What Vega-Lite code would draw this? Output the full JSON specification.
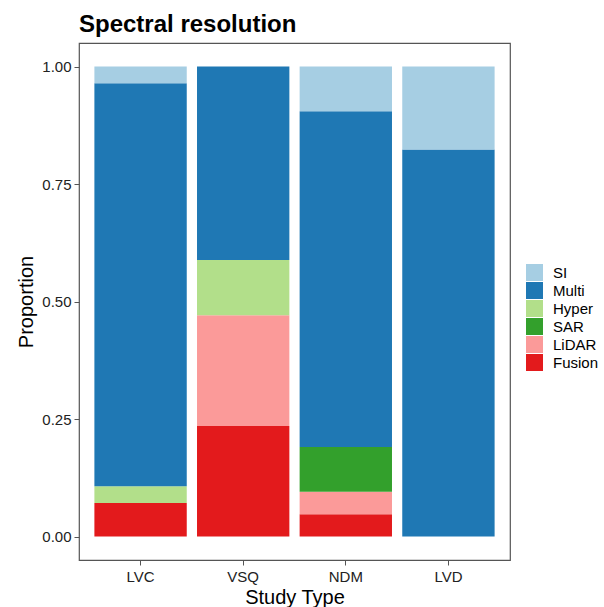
{
  "$schema": "https://vega.github.io/schema/vega-lite/v6.json",
  "width": 431,
  "height": 517,
  "autosize": {"type": "none"},
  "padding": {"left": 79, "top": 43, "right": 94, "bottom": 47},
  "background": "white",
  "title": {
    "text": "Spectral resolution",
    "anchor": "start",
    "frame": "group",
    "font": "Liberation Sans",
    "fontSize": 24,
    "fontWeight": "bold",
    "color": "black",
    "offset": 6
  },
  "config": {
    "view": {"stroke": "#555555", "strokeWidth": 1.2},
    "font": "Liberation Sans",
    "axis": {
      "grid": false,
      "domain": false,
      "tickColor": "#555555",
      "tickSize": 5,
      "labelFont": "Liberation Sans",
      "labelFontSize": 15,
      "labelColor": "#222222",
      "titleFont": "Liberation Sans",
      "titleFontSize": 20,
      "titleFontWeight": "normal",
      "titleColor": "black"
    }
  },
  "data": {
    "values": [
      {"study": "LVC", "resolution": "Fusion", "proportion": 0.0714},
      {"study": "LVC", "resolution": "Hyper", "proportion": 0.0357},
      {"study": "LVC", "resolution": "Multi", "proportion": 0.8572},
      {"study": "LVC", "resolution": "SI", "proportion": 0.0357},
      {"study": "VSQ", "resolution": "Fusion", "proportion": 0.2353},
      {"study": "VSQ", "resolution": "LiDAR", "proportion": 0.2353},
      {"study": "VSQ", "resolution": "Hyper", "proportion": 0.1176},
      {"study": "VSQ", "resolution": "Multi", "proportion": 0.4118},
      {"study": "NDM", "resolution": "Fusion", "proportion": 0.0476},
      {"study": "NDM", "resolution": "LiDAR", "proportion": 0.0476},
      {"study": "NDM", "resolution": "SAR", "proportion": 0.0952},
      {"study": "NDM", "resolution": "Multi", "proportion": 0.7144},
      {"study": "NDM", "resolution": "SI", "proportion": 0.0952},
      {"study": "LVD", "resolution": "Multi", "proportion": 0.8235},
      {"study": "LVD", "resolution": "SI", "proportion": 0.1765}
    ]
  },
  "transform": [
    {"calculate": "indexof(['Fusion','LiDAR','SAR','Hyper','Multi','SI'], datum.resolution)", "as": "stack_order"}
  ],
  "mark": {"type": "bar"},
  "encoding": {
    "x": {
      "field": "study",
      "type": "nominal",
      "sort": ["LVC", "VSQ", "NDM", "LVD"],
      "scale": {"paddingInner": 0.1, "paddingOuter": 0.15},
      "axis": {"labelAngle": 0, "title": "Study Type", "labelPadding": 4, "titlePadding": 3}
    },
    "y": {
      "field": "proportion",
      "type": "quantitative",
      "stack": "zero",
      "scale": {"domain": [-0.05, 1.05], "nice": false, "zero": false},
      "axis": {"values": [0, 0.25, 0.5, 0.75, 1], "format": ".2f", "title": "Proportion", "labelPadding": 3, "titlePadding": 5}
    },
    "order": {"field": "stack_order", "type": "quantitative", "sort": "ascending"},
    "color": {
      "field": "resolution",
      "type": "nominal",
      "scale": {
        "domain": ["SI", "Multi", "Hyper", "SAR", "LiDAR", "Fusion"],
        "range": ["#A6CEE3", "#1F78B4", "#B2DF8A", "#33A02C", "#FB9A99", "#E31A1C"]
      },
      "legend": {
        "title": null,
        "orient": "none",
        "legendX": 447,
        "legendY": 221,
        "symbolType": "square",
        "symbolSize": 289,
        "symbolStrokeWidth": 0,
        "symbolOpacity": 1,
        "labelFont": "Liberation Sans",
        "labelFontSize": 15,
        "labelColor": "black",
        "labelOffset": 10,
        "rowPadding": 1
      }
    }
  }
}
